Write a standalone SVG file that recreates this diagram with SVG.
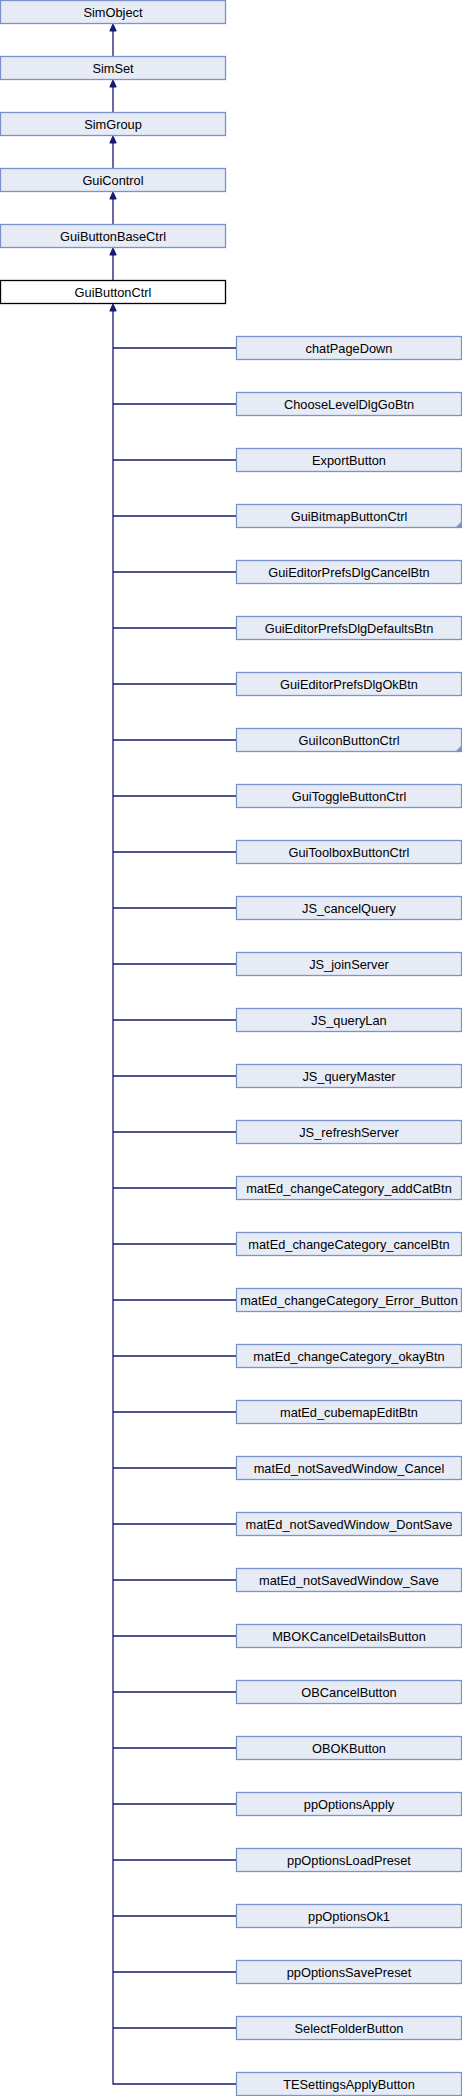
<svg xmlns="http://www.w3.org/2000/svg" width="462" height="2096" viewBox="0 0 462 2096">
<style>
.n rect{fill:#E7EBF5;stroke:#7B93CC;stroke-width:1.3}
.cur rect{fill:#FFFFFF;stroke:#000000;stroke-width:1.3}
text{font-family:"Liberation Sans",Arial,sans-serif;font-size:12.8px;fill:#000;text-anchor:middle}
.e{stroke:#191970;stroke-width:1.3;fill:none}
.tri{fill:#7B93CC}
</style>
<defs>
<path id="ah" d="M0,0 L-3.2,7 L3.2,7 Z" fill="#191970" stroke="#191970" stroke-width="1"/>
</defs>
<g id="edges">
<path class="e" d="M113,30 V56"/><use href="#ah" x="113" y="24"/>
<path class="e" d="M113,86 V112"/><use href="#ah" x="113" y="80"/>
<path class="e" d="M113,142 V168"/><use href="#ah" x="113" y="136"/>
<path class="e" d="M113,198 V224"/><use href="#ah" x="113" y="192"/>
<path class="e" d="M113,254 V280"/><use href="#ah" x="113" y="248"/>
<path class="e" d="M113,310 V2084 H236"/><use href="#ah" x="113" y="304"/>
<path class="e" d="M113,348 H236 M113,404 H236 M113,460 H236 M113,516 H236 M113,572 H236 M113,628 H236 M113,684 H236 M113,740 H236 M113,796 H236 M113,852 H236 M113,908 H236 M113,964 H236 M113,1020 H236 M113,1076 H236 M113,1132 H236 M113,1188 H236 M113,1244 H236 M113,1300 H236 M113,1356 H236 M113,1412 H236 M113,1468 H236 M113,1524 H236 M113,1580 H236 M113,1636 H236 M113,1692 H236 M113,1748 H236 M113,1804 H236 M113,1860 H236 M113,1916 H236 M113,1972 H236 M113,2028 H236"/>
</g>
<g id="SimObject" class="n"><rect x="0.5" y="0.5" width="225" height="23"/><text x="113" y="16.5">SimObject</text></g>
<g id="SimSet" class="n"><rect x="0.5" y="56.5" width="225" height="23"/><text x="113" y="72.5">SimSet</text></g>
<g id="SimGroup" class="n"><rect x="0.5" y="112.5" width="225" height="23"/><text x="113" y="128.5">SimGroup</text></g>
<g id="GuiControl" class="n"><rect x="0.5" y="168.5" width="225" height="23"/><text x="113" y="184.5">GuiControl</text></g>
<g id="GuiButtonBaseCtrl" class="n"><rect x="0.5" y="224.5" width="225" height="23"/><text x="113" y="240.5">GuiButtonBaseCtrl</text></g>
<g id="GuiButtonCtrl" class="cur"><rect x="0.5" y="280.5" width="225" height="23"/><text x="113" y="296.5">GuiButtonCtrl</text></g>
<g id="chatPageDown" class="n"><rect x="236.5" y="336.5" width="225" height="23"/><text x="349" y="352.5">chatPageDown</text></g>
<g id="ChooseLevelDlgGoBtn" class="n"><rect x="236.5" y="392.5" width="225" height="23"/><text x="349" y="408.5">ChooseLevelDlgGoBtn</text></g>
<g id="ExportButton" class="n"><rect x="236.5" y="448.5" width="225" height="23"/><text x="349" y="464.5">ExportButton</text></g>
<g id="GuiBitmapButtonCtrl" class="n"><rect x="236.5" y="504.5" width="225" height="23"/><text x="349" y="520.5">GuiBitmapButtonCtrl</text><path class="tri" d="M461,522 V527 H456 Z"/></g>
<g id="GuiEditorPrefsDlgCancelBtn" class="n"><rect x="236.5" y="560.5" width="225" height="23"/><text x="349" y="576.5">GuiEditorPrefsDlgCancelBtn</text></g>
<g id="GuiEditorPrefsDlgDefaultsBtn" class="n"><rect x="236.5" y="616.5" width="225" height="23"/><text x="349" y="632.5">GuiEditorPrefsDlgDefaultsBtn</text></g>
<g id="GuiEditorPrefsDlgOkBtn" class="n"><rect x="236.5" y="672.5" width="225" height="23"/><text x="349" y="688.5">GuiEditorPrefsDlgOkBtn</text></g>
<g id="GuiIconButtonCtrl" class="n"><rect x="236.5" y="728.5" width="225" height="23"/><text x="349" y="744.5">GuiIconButtonCtrl</text><path class="tri" d="M461,746 V751 H456 Z"/></g>
<g id="GuiToggleButtonCtrl" class="n"><rect x="236.5" y="784.5" width="225" height="23"/><text x="349" y="800.5">GuiToggleButtonCtrl</text></g>
<g id="GuiToolboxButtonCtrl" class="n"><rect x="236.5" y="840.5" width="225" height="23"/><text x="349" y="856.5">GuiToolboxButtonCtrl</text></g>
<g id="JS_cancelQuery" class="n"><rect x="236.5" y="896.5" width="225" height="23"/><text x="349" y="912.5">JS_cancelQuery</text></g>
<g id="JS_joinServer" class="n"><rect x="236.5" y="952.5" width="225" height="23"/><text x="349" y="968.5">JS_joinServer</text></g>
<g id="JS_queryLan" class="n"><rect x="236.5" y="1008.5" width="225" height="23"/><text x="349" y="1024.5">JS_queryLan</text></g>
<g id="JS_queryMaster" class="n"><rect x="236.5" y="1064.5" width="225" height="23"/><text x="349" y="1080.5">JS_queryMaster</text></g>
<g id="JS_refreshServer" class="n"><rect x="236.5" y="1120.5" width="225" height="23"/><text x="349" y="1136.5">JS_refreshServer</text></g>
<g id="matEd_changeCategory_addCatBtn" class="n"><rect x="236.5" y="1176.5" width="225" height="23"/><text x="349" y="1192.5">matEd_changeCategory_addCatBtn</text></g>
<g id="matEd_changeCategory_cancelBtn" class="n"><rect x="236.5" y="1232.5" width="225" height="23"/><text x="349" y="1248.5">matEd_changeCategory_cancelBtn</text></g>
<g id="matEd_changeCategory_Error_Button" class="n"><rect x="236.5" y="1288.5" width="225" height="23"/><text x="349" y="1304.5">matEd_changeCategory_Error_Button</text></g>
<g id="matEd_changeCategory_okayBtn" class="n"><rect x="236.5" y="1344.5" width="225" height="23"/><text x="349" y="1360.5">matEd_changeCategory_okayBtn</text></g>
<g id="matEd_cubemapEditBtn" class="n"><rect x="236.5" y="1400.5" width="225" height="23"/><text x="349" y="1416.5">matEd_cubemapEditBtn</text></g>
<g id="matEd_notSavedWindow_Cancel" class="n"><rect x="236.5" y="1456.5" width="225" height="23"/><text x="349" y="1472.5">matEd_notSavedWindow_Cancel</text></g>
<g id="matEd_notSavedWindow_DontSave" class="n"><rect x="236.5" y="1512.5" width="225" height="23"/><text x="349" y="1528.5">matEd_notSavedWindow_DontSave</text></g>
<g id="matEd_notSavedWindow_Save" class="n"><rect x="236.5" y="1568.5" width="225" height="23"/><text x="349" y="1584.5">matEd_notSavedWindow_Save</text></g>
<g id="MBOKCancelDetailsButton" class="n"><rect x="236.5" y="1624.5" width="225" height="23"/><text x="349" y="1640.5">MBOKCancelDetailsButton</text></g>
<g id="OBCancelButton" class="n"><rect x="236.5" y="1680.5" width="225" height="23"/><text x="349" y="1696.5">OBCancelButton</text></g>
<g id="OBOKButton" class="n"><rect x="236.5" y="1736.5" width="225" height="23"/><text x="349" y="1752.5">OBOKButton</text></g>
<g id="ppOptionsApply" class="n"><rect x="236.5" y="1792.5" width="225" height="23"/><text x="349" y="1808.5">ppOptionsApply</text></g>
<g id="ppOptionsLoadPreset" class="n"><rect x="236.5" y="1848.5" width="225" height="23"/><text x="349" y="1864.5">ppOptionsLoadPreset</text></g>
<g id="ppOptionsOk1" class="n"><rect x="236.5" y="1904.5" width="225" height="23"/><text x="349" y="1920.5">ppOptionsOk1</text></g>
<g id="ppOptionsSavePreset" class="n"><rect x="236.5" y="1960.5" width="225" height="23"/><text x="349" y="1976.5">ppOptionsSavePreset</text></g>
<g id="SelectFolderButton" class="n"><rect x="236.5" y="2016.5" width="225" height="23"/><text x="349" y="2032.5">SelectFolderButton</text></g>
<g id="TESettingsApplyButton" class="n"><rect x="236.5" y="2072.5" width="225" height="23"/><text x="349" y="2088.5">TESettingsApplyButton</text></g>
</svg>
